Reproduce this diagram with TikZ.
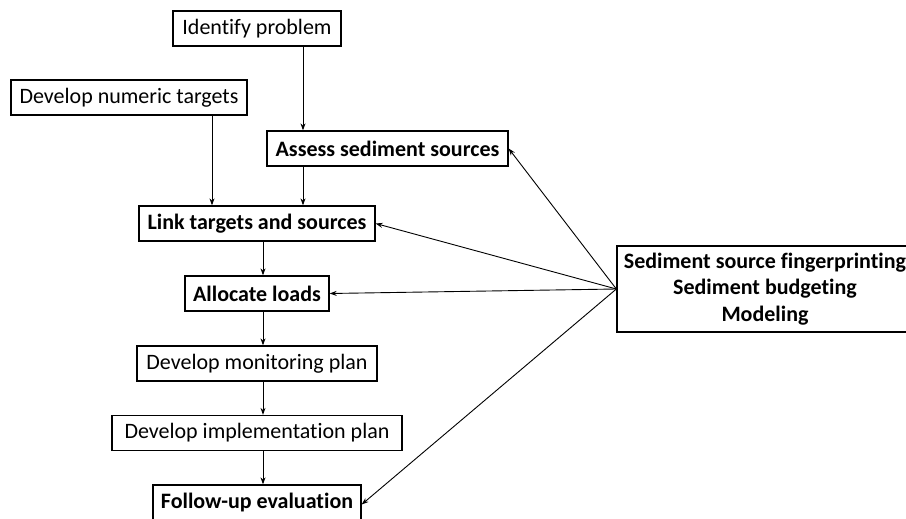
\documentclass[tikz,border=0pt]{standalone}
\usepackage{fontspec}
\setmainfont[Ligatures=NoCommon]{Carlito}
\usetikzlibrary{arrows.meta}
\begin{document}
\begin{tikzpicture}[x=1pt,y=-1pt,
  box/.style={draw, line width=1.3pt, inner sep=0pt, minimum height=35pt, font=\fontsize{22}{26}\selectfont},
  bbox/.style={box, font=\fontsize{22}{26}\selectfont\bfseries},
  arr/.style={-{Stealth[length=7pt,width=5pt]}, line width=0.9pt}]
\useasboundingbox (0,0) rectangle (906,519);
\clip (0,0) rectangle (906,519);
\node[box, minimum width=168pt] (id) at (257,28.5) {Identify problem};
\node[box, minimum width=236pt] (nt) at (129,97.5) {Develop numeric targets};
\node[bbox, minimum width=241pt] (as) at (387.5,148.5) {Assess sediment sources};
\node[bbox, minimum width=236pt] (lk) at (257,223.5) {Link targets and sources};
\node[bbox, minimum width=144pt] (al) at (257,293.5) {Allocate loads};
\node[box, minimum width=240pt] (mp) at (257,363.5) {Develop monitoring plan};
\node[box, minimum width=290pt] (ip) at (257,433) {Develop implementation plan};
\node[bbox, minimum width=208pt] (fu) at (257,502.5) {Follow-up evaluation};
\node[box, minimum width=296pt, minimum height=86pt, align=center, font=\fontsize{22}{26.5}\selectfont\bfseries] (rb) at (765,289)
  {Sediment source fingerprinting\\Sediment budgeting\\Modeling};
\draw[arr] ([xshift=46pt]id.south) -- ([xshift=-84.5pt]as.north);
\draw[arr] ([xshift=83pt]nt.south) -- ([xshift=-45pt]lk.north);
\draw[arr] ([xshift=-84.5pt]as.south) -- ([xshift=46pt]lk.north);
\draw[arr] ([xshift=6pt]lk.south) -- ([xshift=6pt]al.north);
\draw[arr] ([xshift=6pt]al.south) -- ([xshift=6pt]mp.north);
\draw[arr] ([xshift=6pt]mp.south) -- ([xshift=6pt]ip.north);
\draw[arr] ([xshift=6pt]ip.south) -- ([xshift=6pt]fu.north);
\draw[arr] (rb.west) -- (as.east);
\draw[arr] (rb.west) -- (lk.east);
\draw[arr] (rb.west) -- (al.east);
\draw[arr] (rb.west) -- ([yshift=-2pt]fu.east);
\end{tikzpicture}
\end{document}
